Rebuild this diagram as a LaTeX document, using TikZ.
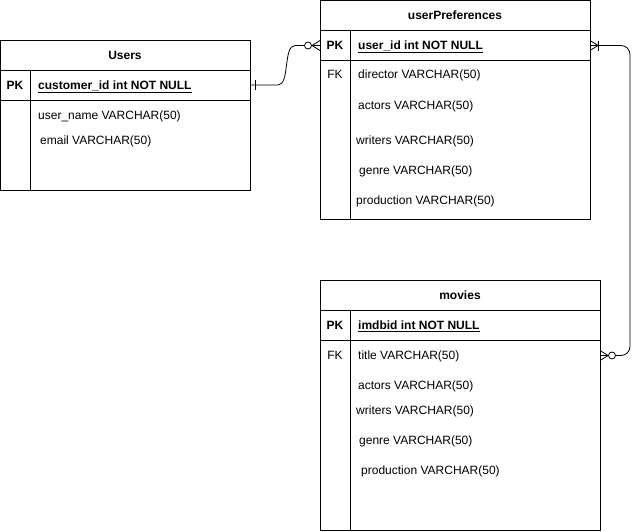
\documentclass[tikz,border=0pt]{standalone}
\usepackage{fontspec}
\setmainfont{Liberation Sans}
\begin{document}
\begin{tikzpicture}[x=1pt,y=-1pt,
  cell/.style={draw=black, line width=0.8pt, fill=white, inner sep=0pt, outer sep=0pt, anchor=north west},
  field/.style={anchor=base west, inner sep=0pt, font=\fontsize{12}{14}\selectfont},
  ttl/.style={anchor=base, inner sep=0pt, font=\fontsize{12}{14}\selectfont\bfseries},
  key/.style={anchor=base, inner sep=0pt, font=\fontsize{12}{14}\selectfont},
  conn/.style={draw=black, line width=0.8pt},
  ring/.style={draw=black, line width=0.8pt, fill=white}]
\useasboundingbox[fill=white] (0,0) rectangle (640,531);

% ---- Users ----
\node[cell, minimum width=250pt, minimum height=30pt] (uhead) at (0,40) {};
\node[cell, minimum width=250pt, minimum height=30pt] (upk) at (0,70) {};
\node[cell, minimum width=250pt, minimum height=90pt] (ubody) at (0,100) {};
\draw[line width=0.8pt] (30,70) -- (30,190);
\node[ttl] (utitle) at (125,59.3) {Users};
\node[ttl] (upklbl) at (15,89.3) {PK};
\node[field, font=\fontsize{12}{14}\selectfont\bfseries] (ucid) at (38,89.3) {\underline{customer\_id int NOT NULL}};
\node[field] (uname) at (38,119.3) {user\_name VARCHAR(50)};
\node[field] (uemail) at (40,144.3) {email VARCHAR(50)};

% ---- userPreferences ----
\node[cell, minimum width=270pt, minimum height=30pt] (phead) at (320,0.5) {};
\node[cell, minimum width=270pt, minimum height=30pt] (ppk) at (320,30.5) {};
\node[cell, minimum width=270pt, minimum height=159pt] (pbody) at (320,60.5) {};
\draw[line width=0.8pt] (350,30.5) -- (350,219.5);
\node[ttl] (ptitle) at (455,19.3) {userPreferences};
\node[ttl] (ppklbl) at (335,49.3) {PK};
\node[field, font=\fontsize{12}{14}\selectfont\bfseries] (puid) at (358,49.3) {\underline{user\_id int NOT NULL}};
\node[key] (pfk) at (335,78.3) {FK};
\node[field] (pdir) at (358,78.3) {director VARCHAR(50)};
\node[field] (pact) at (358,109.3) {actors VARCHAR(50)};
\node[field] (pwri) at (356,144.3) {writers VARCHAR(50)};
\node[field] (pgen) at (359,174.3) {genre VARCHAR(50)};
\node[field] (pprod) at (356,204.3) {production VARCHAR(50)};

% ---- movies ----
\node[cell, minimum width=280pt, minimum height=30pt] (mhead) at (320,280.5) {};
\node[cell, minimum width=280pt, minimum height=30pt] (mpk) at (320,310.5) {};
\node[cell, minimum width=280pt, minimum height=190pt] (mbody) at (320,340.5) {};
\draw[line width=0.8pt] (350,310.5) -- (350,530.5);
\node[ttl] (mtitle) at (460,299.3) {movies};
\node[ttl] (mpklbl) at (335,329.3) {PK};
\node[field, font=\fontsize{12}{14}\selectfont\bfseries] (mid) at (358,329.3) {\underline{imdbid int NOT NULL}};
\node[key] (mfk) at (335,359.3) {FK};
\node[field] (mttl) at (358,359.3) {title VARCHAR(50)};
\node[field] (mact) at (358,389.3) {actors VARCHAR(50)};
\node[field] (mwri) at (356,414.3) {writers VARCHAR(50)};
\node[field] (mgen) at (359,444.3) {genre VARCHAR(50)};
\node[field] (mprod) at (361,474.3) {production VARCHAR(50)};

% ---- connector Users -> userPreferences ----
\coordinate (a1) at (278,85);
\coordinate (a2) at (295,45.5);
\draw[conn] (upk.east) -- (a1) .. controls (290,85) and (283,45.5) .. (a2) -- (ppk.west);
\draw[conn] (255,80) -- (255,90);
\draw[conn] (312,45.5) -- (320,40.5);
\draw[conn] (312,45.5) -- (320,50.5);
\draw[ring] (308,45.5) circle (3.5pt);

% ---- connector userPreferences -> movies ----
\draw[conn, rounded corners=9pt] (ppk.east) -- (630,45.5) -- (630,355.5) -- (mbody.east |- 0,355.5);
\draw[conn] (598,45.5) -- (590,40.5);
\draw[conn] (598,45.5) -- (590,50.5);
\draw[conn] (598,40.5) -- (598,50.5);
\draw[conn] (608,355.5) -- (600,350.5);
\draw[conn] (608,355.5) -- (600,360.5);
\draw[ring] (612,355.5) circle (3.5pt);
\end{tikzpicture}
\end{document}
